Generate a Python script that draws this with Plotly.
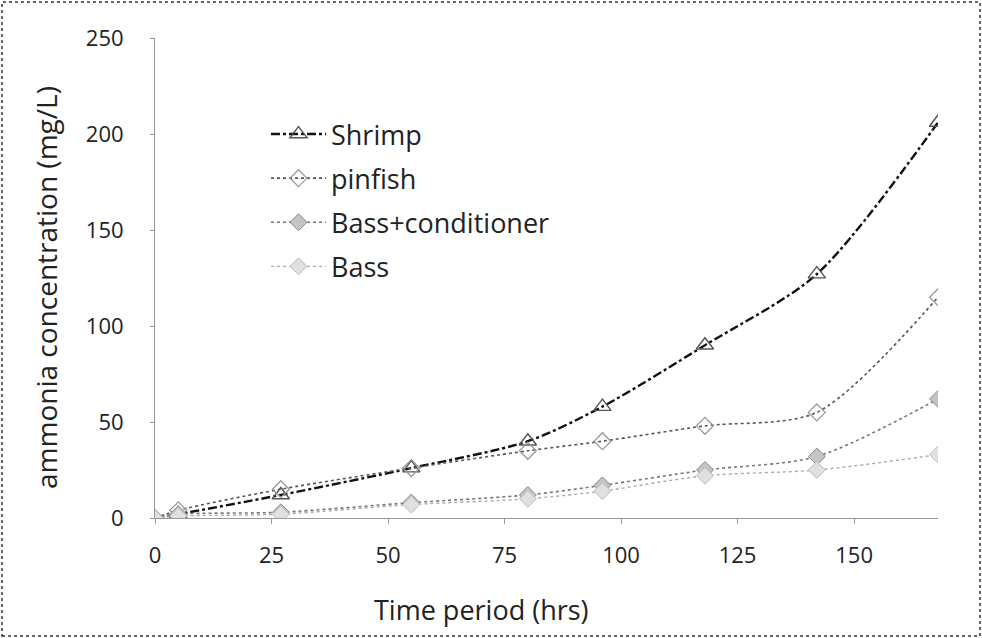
import plotly.graph_objects as go

time_hrs = [0, 5, 27, 55, 80, 96, 118, 142, 168]
shrimp = [0, 2, 12, 26, 40, 58, 90, 127, 206]
pinfish = [0, 4, 15, 26, 35, 40, 48, 55, 115]
bass_conditioner = [0, 2, 3, 8, 12, 17, 25, 32, 62]
bass = [0, 1, 2, 7, 10, 14, 22, 25, 33]
x_ticks = [0, 25, 50, 75, 100, 125, 150]
y_ticks = [0, 50, 100, 150, 200, 250]

FONT = "Open Sans"
SMOOTH = 0.8
TXT = "#222222"

fig = go.Figure()
fig.add_trace(go.Scatter(
    x=time_hrs, y=shrimp, name="Shrimp", mode="lines+markers", legendgroup="a",
    line=dict(color="#111111", width=2.4, dash="dashdot", shape="spline", smoothing=SMOOTH),
    marker=dict(symbol="triangle-up-open", size=15, color="#555555", line=dict(width=1.4))))
fig.add_trace(go.Scatter(
    x=time_hrs, y=pinfish, name="pinfish", mode="lines+markers", legendgroup="b",
    line=dict(color="#555555", width=1.6, dash="dot", shape="spline", smoothing=SMOOTH),
    marker=dict(symbol="diamond-open", size=13, color="#999999", line=dict(width=1.3))))
fig.add_trace(go.Scatter(
    x=time_hrs, y=bass_conditioner, name="Bass+conditioner", mode="lines+markers", legendgroup="c",
    line=dict(color="#777777", width=1.6, dash="dot", shape="spline", smoothing=SMOOTH),
    marker=dict(symbol="diamond", size=13, color="#c4c4c4", line=dict(width=1, color="#888888"))))
fig.add_trace(go.Scatter(
    x=time_hrs, y=bass, name="Bass", mode="lines+markers", legendgroup="d",
    line=dict(color="#aaaaaa", width=1.4, dash="dot", shape="spline", smoothing=SMOOTH),
    marker=dict(symbol="diamond", size=13, color="#e0e0e0", line=dict(width=1, color="#bbbbbb"))))

L, R, T, B = 155, 44, 38, 120
W, H = 982, 638
pw, ph = W - L - R, H - T - B


def px_x(p):
    return (p - L) / pw


def px_y(p):
    return (H - B - p) / ph


fig.update_layout(
    width=W, height=H, margin=dict(l=L, r=R, t=T, b=B),
    paper_bgcolor="white", plot_bgcolor="white",
    font=dict(family=FONT, size=22, color=TXT),
    showlegend=True,
    legend=dict(x=px_x(266), y=px_y(110), xanchor="left", yanchor="top",
                font=dict(size=27, family=FONT, color=TXT), tracegroupgap=6,
                bgcolor="rgba(0,0,0,0)", itemwidth=55),
    xaxis=dict(range=[0, 168], tickvals=x_ticks, showgrid=False, zeroline=False,
               showline=True, linecolor="#999999", linewidth=1,
               ticks="outside", ticklen=5, tickcolor="#999999",
               ticklabelstandoff=13, tickfont=dict(size=22)),
    yaxis=dict(range=[0, 250], tickvals=y_ticks, showgrid=False, zeroline=False,
               showline=True, linecolor="#999999", linewidth=1,
               ticks="outside", ticklen=4, tickcolor="#999999",
               ticklabelstandoff=22, tickfont=dict(size=22)),
    annotations=[
        dict(text="Time period (hrs)", xref="paper", yref="paper",
             x=px_x(481), y=px_y(609), xanchor="center", yanchor="middle",
             showarrow=False, font=dict(size=27, family=FONT, color=TXT)),
        dict(text="ammonia concentration (mg/L)", xref="paper", yref="paper",
             x=px_x(46), y=px_y(288), xanchor="center", yanchor="middle",
             textangle=-90, showarrow=False, font=dict(size=28, family=FONT, color=TXT)),
    ],
    shapes=[dict(type="rect", xref="paper", yref="paper",
                 x0=px_x(2), x1=px_x(980), y0=px_y(636), y1=px_y(2),
                 line=dict(color="#333333", width=1.5, dash="dot"))],
)

fig.write_html("out.html", config={"displayModeBar": False},
               post_script="document.body.style.margin='0';document.body.style.padding='0';")
